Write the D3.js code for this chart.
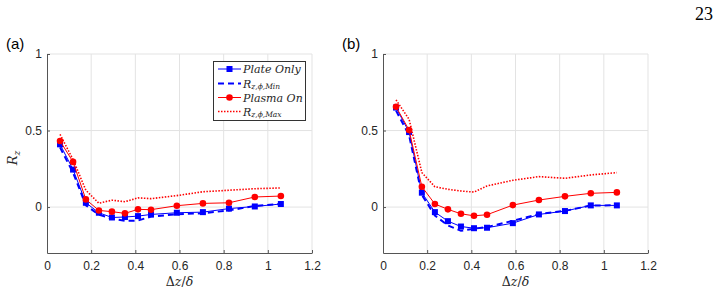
<!DOCTYPE html>
<html>
<head>
<meta charset="utf-8">
<script src="https://cdn.jsdelivr.net/npm/d3@7"></script>
<style>
  body { margin: 0; background: #fff; }
  svg { display: block; }
  .tick text { font-family: "Liberation Sans", Arial, sans-serif; font-size: 12px; fill: #262626; }
</style>
</head>
<body>
<script>
// separation values, dz/delta
const dz = [0.059, 0.118, 0.176, 0.235, 0.294, 0.353, 0.412, 0.471, 0.588, 0.706, 0.824, 0.941, 1.059];

// panel (a)
const plateA  = [0.41, 0.245, 0.028, -0.037, -0.068, -0.065, -0.059, -0.048, -0.037, -0.033, -0.01, 0.004, 0.02];
const minA    = [0.39, 0.225, 0.012, -0.05, -0.075, -0.09, -0.088, -0.062, -0.047, -0.04, -0.022, 0.008, 0.02];
const plasmaA = [0.432, 0.295, 0.05, -0.022, -0.03, -0.041, -0.015, -0.017, 0.009, 0.024, 0.028, 0.066, 0.072];
const maxA    = [0.475, 0.31, 0.11, 0.025, 0.045, 0.035, 0.06, 0.055, 0.075, 0.1, 0.11, 0.12, 0.125];

// panel (b)
const plateB  = [0.65, 0.49, 0.094, -0.033, -0.092, -0.127, -0.138, -0.135, -0.105, -0.048, -0.026, 0.011, 0.011];
const minB    = [0.63, 0.47, 0.08, -0.055, -0.12, -0.155, -0.142, -0.13, -0.09, -0.045, -0.025, 0.01, 0.012];
const plasmaB = [0.655, 0.504, 0.133, 0.02, -0.015, -0.044, -0.057, -0.05, 0.013, 0.046, 0.07, 0.09, 0.096];
const maxB    = [0.70, 0.574, 0.225, 0.133, 0.116, 0.105, 0.098, 0.138, 0.175, 0.199, 0.188, 0.21, 0.225];

const xTicks = [0, 0.2, 0.4, 0.6, 0.8, 1, 1.2];
const yTicks = [0, 0.5, 1];

const width = 720, height = 297;
const serif = "'Liberation Serif', 'Times New Roman', serif";
const italicSerif = "'DejaVu Serif', serif";
const svg = d3.select("body").append("svg")
  .attr("width", width).attr("height", height);

// page number
svg.append("text").attr("x", 713).attr("y", 20).attr("text-anchor", "end")
  .style("font-family", serif)
  .style("font-size", "18px").text("23");

function drawPanel(left, series, tag, showYLabel) {
  const x = d3.scaleLinear().domain([0, 1.2]).range([left, left + 265]);
  const y = d3.scaleLinear().domain([-0.3, 1]).range([253, 54]);
  const g = svg.append("g");

  // grid
  g.append("g").selectAll("line").data(xTicks.filter(d => d > 0)).join("line")
    .attr("x1", d => x(d)).attr("x2", d => x(d)).attr("y1", y(-0.3)).attr("y2", y(1))
    .attr("stroke", "#e3e3e3").attr("stroke-width", 1);
  g.append("g").selectAll("line").data(yTicks).join("line")
    .attr("x1", x(0)).attr("x2", x(1.2)).attr("y1", d => y(d)).attr("y2", d => y(d))
    .attr("stroke", "#e3e3e3").attr("stroke-width", 1);

  // axes
  const xAxis = d3.axisBottom(x).tickValues(xTicks).tickFormat(d3.format("")).tickSizeInner(-3).tickSizeOuter(0).tickPadding(8);
  const yAxis = d3.axisLeft(y).tickValues(yTicks).tickFormat(d3.format("")).tickSizeInner(-3).tickSizeOuter(0).tickPadding(5);
  g.append("g").attr("transform", "translate(0," + y(-0.3) + ")").call(xAxis)
    .call(a => a.selectAll("path, line").attr("stroke", "#555"));
  g.append("g").attr("transform", "translate(" + x(0) + ",0)").call(yAxis)
    .call(a => a.selectAll("path, line").attr("stroke", "#555"));

  const line = d3.line().x((d, i) => x(dz[i])).y(d => y(d));

  // Plate Only
  g.append("path").attr("d", line(series.plate)).attr("fill", "none")
    .attr("stroke", "#0000ff").attr("stroke-width", 1);
  g.append("g").selectAll("rect").data(series.plate).join("rect")
    .attr("x", (d, i) => x(dz[i]) - 3).attr("y", d => y(d) - 3)
    .attr("width", 6).attr("height", 6).attr("fill", "#0000ff");
  // Min
  g.append("path").attr("d", line(series.min)).attr("fill", "none")
    .attr("stroke", "#0000ff").attr("stroke-width", 2).attr("stroke-dasharray", "6,4");
  // Plasma On
  g.append("path").attr("d", line(series.plasma)).attr("fill", "none")
    .attr("stroke", "#ff0000").attr("stroke-width", 1);
  g.append("g").selectAll("circle").data(series.plasma).join("circle")
    .attr("cx", (d, i) => x(dz[i])).attr("cy", d => y(d)).attr("r", 3.3)
    .attr("fill", "#ff0000");
  // Max
  g.append("path").attr("d", line(series.max)).attr("fill", "none")
    .attr("stroke", "#ff0000").attr("stroke-width", 1.6).attr("stroke-dasharray", "1.5,1.5");

  // panel tag
  svg.append("text").attr("x", left - 41).attr("y", 49)
    .style("font-family", "'Liberation Sans', Arial, sans-serif").style("font-size", "15px")
    .text(tag);

  // x label
  const xl = svg.append("text").attr("x", (x(0) + x(1.2)) / 2).attr("y", 286)
    .attr("text-anchor", "middle")
    .style("font-family", italicSerif).style("font-size", "12.5px").attr("fill", "#262626");
  xl.append("tspan").text("Δ");
  xl.append("tspan").style("font-style", "italic").text("z");
  xl.append("tspan").text("/");
  xl.append("tspan").style("font-style", "italic").text("δ");

  if (showYLabel) {
    const yl = svg.append("text").attr("transform", "translate(17,158) rotate(-90)")
      .attr("text-anchor", "middle")
      .style("font-family", italicSerif).style("font-size", "13px")
      .style("font-style", "italic").attr("fill", "#262626");
    yl.append("tspan").text("R");
    yl.append("tspan").attr("dy", 3).style("font-size", "9px").text("z");
  }
}

drawPanel(47, { plate: plateA, min: minA, plasma: plasmaA, max: maxA }, "(a)", true);
drawPanel(383, { plate: plateB, min: minB, plasma: plasmaB, max: maxB }, "(b)", false);

// legend (panel a)
const legendNames = ["Plate Only", "Min", "Plasma On", "Max"];
const lg = svg.append("g");
lg.append("rect").attr("x", 213.5).attr("y", 61.5).attr("width", 92).attr("height", 59)
  .attr("fill", "#fff").attr("stroke", "#333").attr("stroke-width", 1);
const rowY = [69, 83.5, 97.5, 111.5];
legendNames.forEach((name, i) => {
  const yy = rowY[i];
  const blue = i < 2;
  const ln = lg.append("line").attr("x1", 218).attr("x2", 241).attr("y1", yy).attr("y2", yy)
    .attr("stroke", blue ? "#0000ff" : "#ff0000");
  if (i === 0) {
    ln.attr("stroke-width", 1);
    lg.append("rect").attr("x", 226.5).attr("y", yy - 3).attr("width", 6).attr("height", 6).attr("fill", "#0000ff");
  } else if (i === 1) {
    ln.attr("stroke-width", 2).attr("stroke-dasharray", "6,4");
  } else if (i === 2) {
    ln.attr("stroke-width", 1);
    lg.append("circle").attr("cx", 229.5).attr("cy", yy).attr("r", 3.3).attr("fill", "#ff0000");
  } else {
    ln.attr("stroke-width", 1.6).attr("stroke-dasharray", "1.5,1.5");
  }
  const t = lg.append("text").attr("x", 243).attr("y", yy + 4)
    .style("font-family", italicSerif).style("font-style", "italic")
    .style("font-size", "11px").attr("fill", "#262626");
  if (name === "Plate Only" || name === "Plasma On") {
    t.text(name);
  } else {
    t.append("tspan").text("R");
    t.append("tspan").attr("dy", 1.5).style("font-size", "7.5px").text("z,ϕ," + name);
  }
});
</script>
</body>
</html>
